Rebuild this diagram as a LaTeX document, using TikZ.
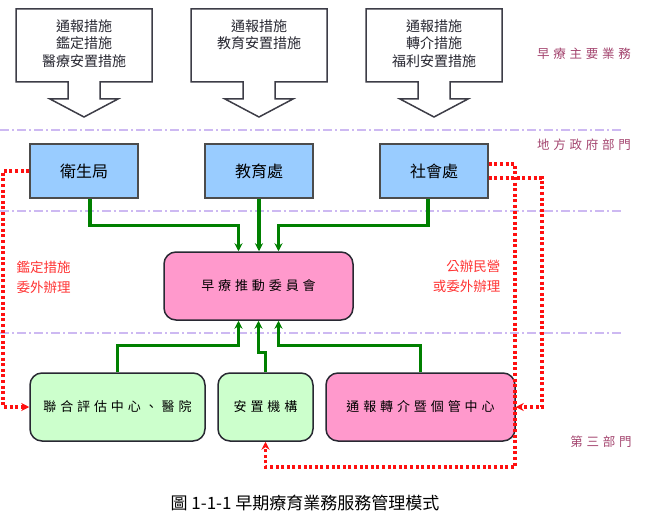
\documentclass[tikz,border=0pt]{standalone}
\usepackage{fontspec}
\setmainfont{Noto Sans CJK TC}
\newfontfamily\cjk{Noto Sans CJK TC}
\newfontfamily\cjkwide[LetterSpace=30]{Noto Sans CJK TC}
\usetikzlibrary{arrows.meta,positioning,calc}
\definecolor{deptblue}{HTML}{99CCFF}
\definecolor{boardpink}{HTML}{FF99CC}
\definecolor{unitgreen}{HTML}{CCFFCC}
\definecolor{linkgreen}{HTML}{008000}
\definecolor{outsource}{HTML}{FF1010}
\definecolor{zoneline}{HTML}{CDB9F2}
\definecolor{zonetext}{HTML}{A3446E}
\definecolor{ink}{RGB}{40,40,50}
\tikzset{
  >={Stealth[length=8pt,width=8pt]},
  taskline/.style={draw=ink!90,line width=1.5pt,fill=white},
  tasktext/.style={anchor=north,align=center,font=\cjk\fontsize{14}{17.5}\selectfont,text=ink},
  dept/.style={draw=gray!60!black,fill=deptblue,line width=1.5pt,
    minimum width=108pt,minimum height=54pt,font=\cjk\fontsize{16}{18}\selectfont},
  unit/.style={draw=ink,fill=#1,line width=1.5pt,rounded corners=12pt,
    minimum height=68pt,font=\cjkwide\fontsize{13}{15}\selectfont},
  unit/.default=unitgreen,
  flow/.style={->,draw=linkgreen,line width=3.4pt},
  farm out/.style={->,draw=outsource,line width=3.2pt,dash pattern=on 3pt off 2.6pt},
  zone/.style={draw=zoneline,line width=1.4pt,dash pattern=on 9pt off 3pt on 2pt off 3pt},
  zonetag/.style={font=\cjkwide\fontsize{12.5}{14}\selectfont,text=zonetext},
  redtag/.style={font=\cjk\fontsize{13.5}{20}\selectfont,text=outsource!85},
}
\begin{document}
\begin{tikzpicture}[x=1pt,y=-1pt]
  \useasboundingbox (0,0) rectangle (646,527);
  % sector bands
  \foreach \y in {130,211,333} \draw[zone] (0,\y) -- (623,\y);
  \node[zonetag] (tagduty) at (584,54) {早療主要業務};
  \node[zonetag] (taglocal) at (584,145) {地方政府部門};
  \node[zonetag] (tagthird) at (601,442) {第三部門};
  % main duties, boxes with arrows
  \foreach \cx/\nm/\txt in {84/dutyA/{通報措施\\鑑定措施\\醫療安置措施},
      259/dutyB/{通報措施\\教育安置措施},
      434/dutyC/{通報措施\\轉介措施\\福利安置措施}}{
    \draw[taskline] (\cx-68,9) -- ++(136,0) -- ++(0,73) -- ++(-52,0) -- ++(0,17)
      -- ++(18,0) -- (\cx,117) -- ++(-34,-18) -- ++(18,0) -- ++(0,-17) -- ++(-52,0) -- cycle;
    \node[tasktext] (\nm) at (\cx,16) {\txt};
  }
  % departments
  \node[dept] (health) at (84,171) {衛生局};
  \node[dept] (edu) at (259,171) {教育處};
  \node[dept] (social) at (434,171) {社會處};
  \node[unit=boardpink,minimum width=189pt] (board) at (258.5,286) {早療推動委員會};
  \node[unit,minimum width=175pt] (joint) at (117.5,407) {聯合評估中心、醫院};
  \node[unit,minimum width=95pt] (placement) at (265.5,407) {安置機構};
  \node[unit=boardpink,minimum width=189pt] (relay) at (420.5,407) {通報轉介暨個管中心};
  % green links
  \draw[flow] ([xshift=6pt]health.south) -- ++(0,27) -| ([xshift=-20pt]board.north);
  \draw[flow] (edu.south) -- (edu.south |- board.north);
  \draw[flow] ([xshift=-6pt]social.south) -- ++(0,27) -| ([xshift=20pt]board.north);
  \draw[flow] (joint.north) -- ++(0,-27) -| ([xshift=-20pt]board.south);
  \draw[flow] (placement.north) -- ++(0,-20) -| (board.south);
  \draw[flow] (relay.north) -- ++(0,-27) -| ([xshift=20pt]board.south);
  % outsourcing
  \coordinate (loopL) at (3,0);
  \coordinate (loopA) at (515,467);
  \coordinate (loopB) at (542,0);
  \draw[farm out] (health.west) -| (loopL |- joint.west) -- (joint.west);
  \draw[farm out] ([yshift=7pt]social.east) -| (loopA) -| (placement.south);
  \draw[farm out] ([yshift=-7pt]social.east) -| (loopB |- relay.east) -- (relay.east);
  \node[redtag,align=left,anchor=west] (tagleft) at (13,277) {鑑定措施\\委外辦理};
  \node[redtag,align=right,anchor=east] (tagright) at (504,276) {公辦民營\\或委外辦理};
  % caption
  \node[font=\cjk\fontsize{17}{20}\selectfont] (caption) at (305,503) {圖 1-1-1 早期療育業務服務管理模式};
\end{tikzpicture}
\end{document}
